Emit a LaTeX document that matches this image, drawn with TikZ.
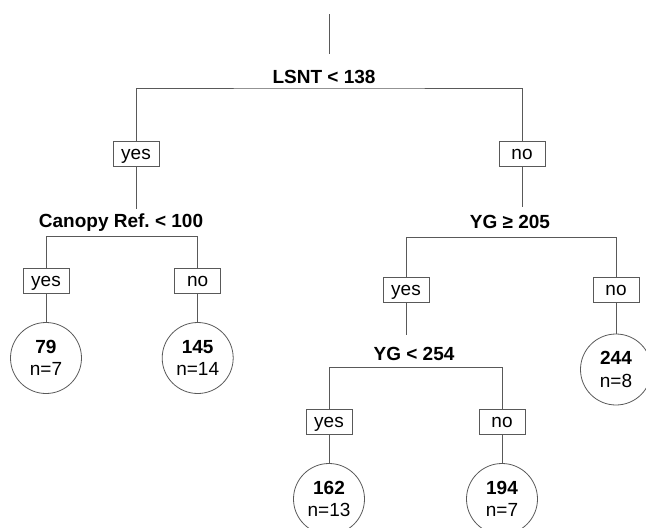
\documentclass[tikz,border=0pt]{standalone}
\usepackage{fontspec}
\setmainfont{Liberation Sans}
\frenchspacing
\begin{document}
\begin{tikzpicture}[x=1pt,y=-1pt,
  conn/.style={draw=black!65, line width=0.8pt},
  splitlab/.style={anchor=base, font=\fontsize{19}{22.5}\selectfont\bfseries, inner sep=0pt},
  ansbox/.style={draw=black!65, line width=0.8pt, fill=white, minimum width=46pt, minimum height=25pt, inner sep=0pt, text height=14.5pt, text depth=3pt, font=\fontsize{19}{22.5}\selectfont},
  leaf/.style={circle, draw=black!65, line width=0.8pt, minimum size=71pt, inner sep=0pt, align=center, font=\fontsize{19}{22.5}\selectfont}]
\useasboundingbox (0,0) rectangle (646,528);
\clip (0,0) rectangle (646,528);
% root
\coordinate (root) at (329,14);
\coordinate (rootend) at (329,54);
\node[splitlab] (lab0) at (324,83) {LSNT < 138};
\coordinate (s0) at (329,88);
\node[ansbox] (yes0) at (136,153.5) {yes};
\node[ansbox] (no0) at (522,153.5) {no};
% left subtree
\coordinate (e1L) at (136,209);
\node[splitlab] (lab1L) at (121,227) {Canopy Ref. < 100};
\coordinate (s1L) at (121,236.7);
\node[ansbox] (yes1L) at (46,281) {yes};
\node[ansbox] (no1L) at (197.7,281) {no};
\node[leaf] (c79) at (46,358) {\textbf{79}\\n=7};
\node[leaf] (c145) at (197.7,358) {\textbf{145}\\n=14};
% right subtree
\coordinate (e1R) at (522,207);
\node[splitlab] (lab1R) at (510,228) {YG ≥ 205};
\coordinate (s1R) at (510,237.7);
\node[ansbox] (yes1R) at (406,289.8) {yes};
\node[ansbox] (no1R) at (616,289.8) {no};
\node[leaf] (c244) at (616,369.5) {\textbf{244}\\n=8};
\coordinate (e2) at (406,335);
\node[splitlab] (lab2) at (414,360) {YG < 254};
\coordinate (s2) at (414,367.5);
\node[ansbox] (yes2) at (329,421.7) {yes};
\node[ansbox] (no2) at (502,421.7) {no};
\node[leaf] (c162) at (329,499) {\textbf{162}\\n=13};
\node[leaf] (c194) at (502,499) {\textbf{194}\\n=7};
% connectors
\draw[conn] (root) -- (rootend);
\draw[conn] (yes0.north) |- (s0) -| (no0.north);
\draw[conn] (yes0.south) -- (e1L);
\draw[conn] (no0.south) -- (e1R);
\draw[conn] (yes1L.north) |- (s1L) -| (no1L.north);
\draw[conn] (yes1L.south) -- (c79.north);
\draw[conn] (no1L.south) -- (c145.north);
\draw[conn] (yes1R.north) |- (s1R) -| (no1R.north);
\draw[conn] (yes1R.south) -- (e2);
\draw[conn] (no1R.south) -- (c244.north);
\draw[conn] (yes2.north) |- (s2) -| (no2.north);
\draw[conn] (yes2.south) -- (c162.north);
\draw[conn] (no2.south) -- (c194.north);
\end{tikzpicture}
\end{document}
